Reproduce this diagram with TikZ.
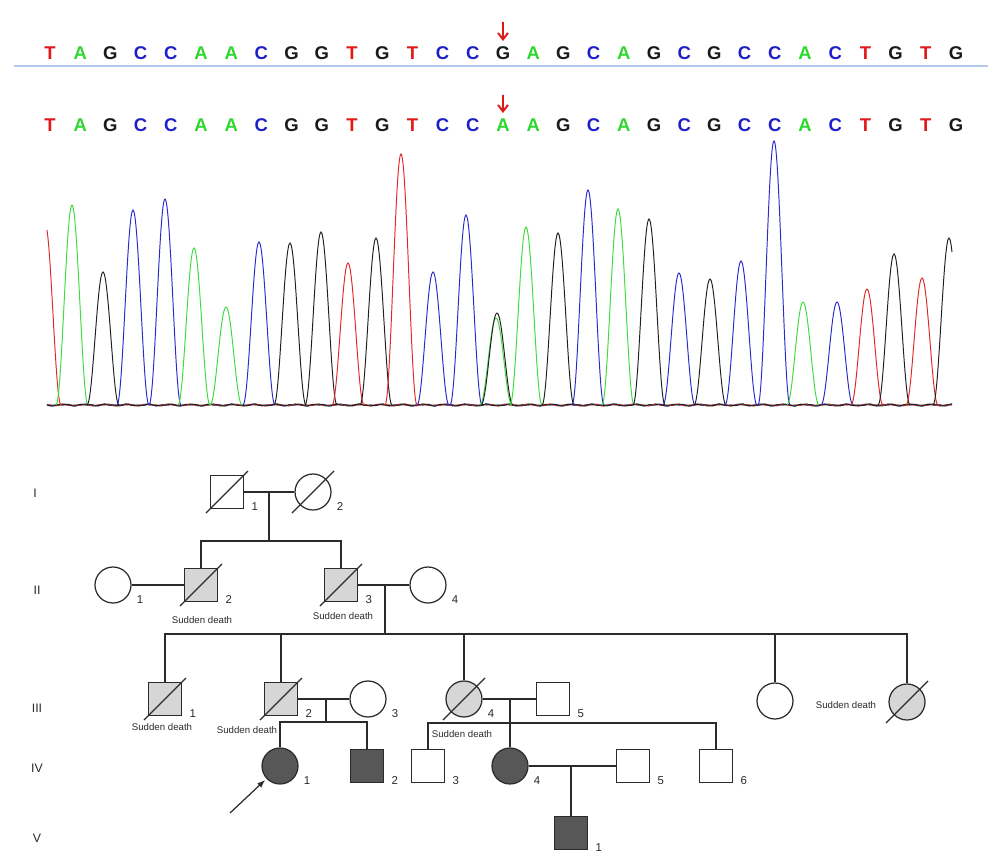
\documentclass[tikz,border=0pt]{standalone}
\usepackage{fontspec}
\setmainfont{Liberation Sans}
\usetikzlibrary{arrows.meta,calc,positioning}
\definecolor{BaseA}{HTML}{2FD62F}
\definecolor{BaseC}{HTML}{1F1FC8}
\definecolor{BaseG}{HTML}{1A1A1A}
\definecolor{BaseT}{HTML}{E01818}
\definecolor{TraceA}{HTML}{3CDC3C}
\definecolor{TraceC}{HTML}{2A2ACC}
\definecolor{TraceG}{HTML}{202020}
\definecolor{TraceT}{HTML}{E02828}
\definecolor{SeqRule}{HTML}{B4C8EC}
\definecolor{PedLine}{HTML}{2B2B2B}
\definecolor{PedLight}{HTML}{D6D6D6}
\definecolor{PedDark}{HTML}{575757}
\tikzset{
  base/.style={font=\fontsize{10.5}{12}\selectfont\bfseries,inner sep=1pt,text height=7.6pt,text depth=0pt,anchor=base},
  mutarrow/.style={-{Straight Barb[length=1.3mm,width=2mm]},draw=BaseT,line width=1.1pt,shorten >=2pt},
  trace/.style={line width=0.55pt},
  pedline/.style={draw=PedLine,line width=0.7pt},
  male/.style={rectangle,pedline,fill=white,minimum size=0.66cm,inner sep=0pt},
  female/.style={circle,pedline,fill=white,minimum size=0.72cm,inner sep=0pt},
  suspect/.style={fill=PedLight},
  affected/.style={fill=PedDark},
  slashline/.style={draw=PedLine,line width=0.7pt},
  numtext/.style={font=\fontsize{6.5}{7}\selectfont,inner sep=0pt,text=PedLine},
  num/.style={label={[numtext,anchor=center,label distance=0.24cm]-28:#1}},
  gentext/.style={font=\fontsize{7}{8}\selectfont,text=PedLine},
  sdtext/.style={font=\fontsize{5.5}{6}\selectfont,inner sep=0pt,text=PedLine},
  probarrow/.style={-{Latex[length=1.6mm,width=1.2mm]},pedline,shorten >=1pt}
}
\newcommand{\deadslash}[1]{\draw[slashline] ($(#1.center)+(-21,21)$) -- ($(#1.center)+(21,-21)$);}

\begin{document}
\begin{tikzpicture}[x=0.02cm,y=-0.02cm]
  \useasboundingbox[fill=white] (0,0) rectangle (993,858);

  % sequence reads
  \foreach \b [count=\i] in {T,A,G,C,C,A,A,C,G,G,T,G,T,C,C,G,A,G,C,A,G,C,G,C,C,A,C,T,G,T,G}
    \node[base,text=Base\b] (s1-\i) at ({50+30.2*(\i-1)},60) {\b};
  \foreach \b [count=\i] in {T,A,G,C,C,A,A,C,G,G,T,G,T,C,C,A,A,G,C,A,G,C,G,C,C,A,C,T,G,T,G}
    \node[base,text=Base\b] (s2-\i) at ({50+30.2*(\i-1)},132) {\b};
  \draw[SeqRule,line width=1pt] (14,66) -- (988,66);
  \coordinate (mut1) at (503,22);
  \coordinate (mut2) at (503,95);
  \draw[mutarrow] (mut1) -- (s1-16);
  \draw[mutarrow] (mut2) -- (s2-16);

  % chromatogram
  \foreach \col/\ph in {TraceA/0,TraceC/90,TraceT/200,TraceG/300}
    \draw[\col,trace] plot[domain=47:952,samples=300] (\x,{405-1.2*sin(mod(\x,30)*24+\ph)*sin(\x*7+\ph)});
  \draw[TraceT,trace] plot[domain=47:61,samples=15,smooth] (\x,{405-182*cos(5.625*(\x-45))*cos(5.625*(\x-45))});
  \foreach \c/\h/\col [evaluate=\c as \lo using \c-16, evaluate=\c as \hi using \c+16] in
    {72/200/TraceA,103/133/TraceG,133/195/TraceC,165/206/TraceC,194/157/TraceA,226/98/TraceA,
     259/163/TraceC,290/162/TraceG,321/173/TraceG,348/142/TraceT,376/167/TraceG,401/251/TraceT,
     433/133/TraceC,466/190/TraceC,496/87/TraceA,497/92/TraceG,526/178/TraceA,558/172/TraceG,
     588/215/TraceC,618/196/TraceA,649/186/TraceG,679/132/TraceC,710/126/TraceG,741/144/TraceC,
     774/264/TraceC,803/103/TraceA,837/103/TraceC,867/116/TraceT,894/151/TraceG,922/127/TraceT}
    \draw[\col,trace] plot[domain=\lo:\hi,samples=33,smooth] (\x,{405-\h*cos(5.625*(\x-\c))*cos(5.625*(\x-\c))});
  \draw[TraceG,trace] plot[domain=933:952,samples=20,smooth] (\x,{405-167*cos(5.625*(\x-949))*cos(5.625*(\x-949))});

  % generations
  \node[gentext] (gen1) at (35,493) {I};
  \node[gentext] (gen2) at (37,590) {II};
  \node[gentext] (gen3) at (37,708) {III};
  \node[gentext] (gen4) at (37,768) {IV};
  \node[gentext] (gen5) at (37,838) {V};

  % individuals
  \node[male,num=1] (I1) at (227,492) {};
  \node[female,num=2] (I2) at (313,492) {};
  \node[female,num=1] (II1) at (113,585) {};
  \node[male,suspect,num=2] (II2) at (201,585) {};
  \node[male,suspect,num=3] (II3) at (341,585) {};
  \node[female,num=4] (II4) at (428,585) {};
  \node[male,suspect,num=1] (III1) at (165,699) {};
  \node[male,suspect,num=2] (III2) at (281,699) {};
  \node[female,num=3] (III3) at (368,699) {};
  \node[female,suspect,num=4] (III4) at (464,699) {};
  \node[male,num=5] (III5) at (553,699) {};
  \node[female] (III6) at (775,701) {};
  \node[female,suspect] (III7) at (907,702) {};
  \node[female,affected,num=1] (IV1) at (280,766) {};
  \node[male,affected,num=2] (IV2) at (367,766) {};
  \node[male,num=3] (IV3) at (428,766) {};
  \node[female,affected,num=4] (IV4) at (510,766) {};
  \node[male,num=5] (IV5) at (633,766) {};
  \node[male,num=6] (IV6) at (716,766) {};
  \node[male,affected,num=1] (V1) at (571,833) {};
  \foreach \p in {I1,I2,II2,II3,III1,III2,III4,III7}
    {\deadslash{\p}}

  \node[sdtext] (sd-II2) at (202,620) {Sudden death};
  \node[sdtext] (sd-II3) at (343,616) {Sudden death};
  \node[sdtext] (sd-III1) at (162,727) {Sudden death};
  \node[sdtext] (sd-III2) at (247,730) {Sudden death};
  \node[sdtext] (sd-III4) at (462,734) {Sudden death};
  \node[sdtext] (sd-III7) at (846,705) {Sudden death};

  % lines of descent
  \coordinate (mI) at (269,492);
  \coordinate (cI) at (269,541);
  \draw[pedline] (I1) -- (I2);
  \draw[pedline] (mI) -- (cI);
  \draw[pedline] (II2) |- (cI) -| (II3);

  \coordinate (mII) at (385,585);
  \coordinate (cII) at (385,634);
  \draw[pedline] (II1) -- (II2);
  \draw[pedline] (II3) -- (II4);
  \draw[pedline] (mII) -- (cII);
  \draw[pedline] (III1) |- (cII) -| (III7);
  \draw[pedline] (cII) -| (III2);
  \draw[pedline] (cII) -| (III4);
  \draw[pedline] (cII) -| (III6);

  \coordinate (mIII2) at (326,699);
  \coordinate (cIII2) at (326,722);
  \draw[pedline] (III2) -- (III3);
  \draw[pedline] (mIII2) -- (cIII2);
  \draw[pedline] (IV1) |- (cIII2) -| (IV2);

  \coordinate (mIII4) at (510,699);
  \coordinate (cIII4) at (510,723);
  \draw[pedline] (III4) -- (III5);
  \draw[pedline] (mIII4) -- (IV4);
  \draw[pedline] (IV3) |- (cIII4) -| (IV6);

  \coordinate (mIV) at (571,766);
  \draw[pedline] (IV4) -- (IV5);
  \draw[pedline] (mIV) -- (V1);

  \coordinate (prob) at (230,813);
  \draw[probarrow] (prob) -- (IV1);
\end{tikzpicture}
\end{document}
